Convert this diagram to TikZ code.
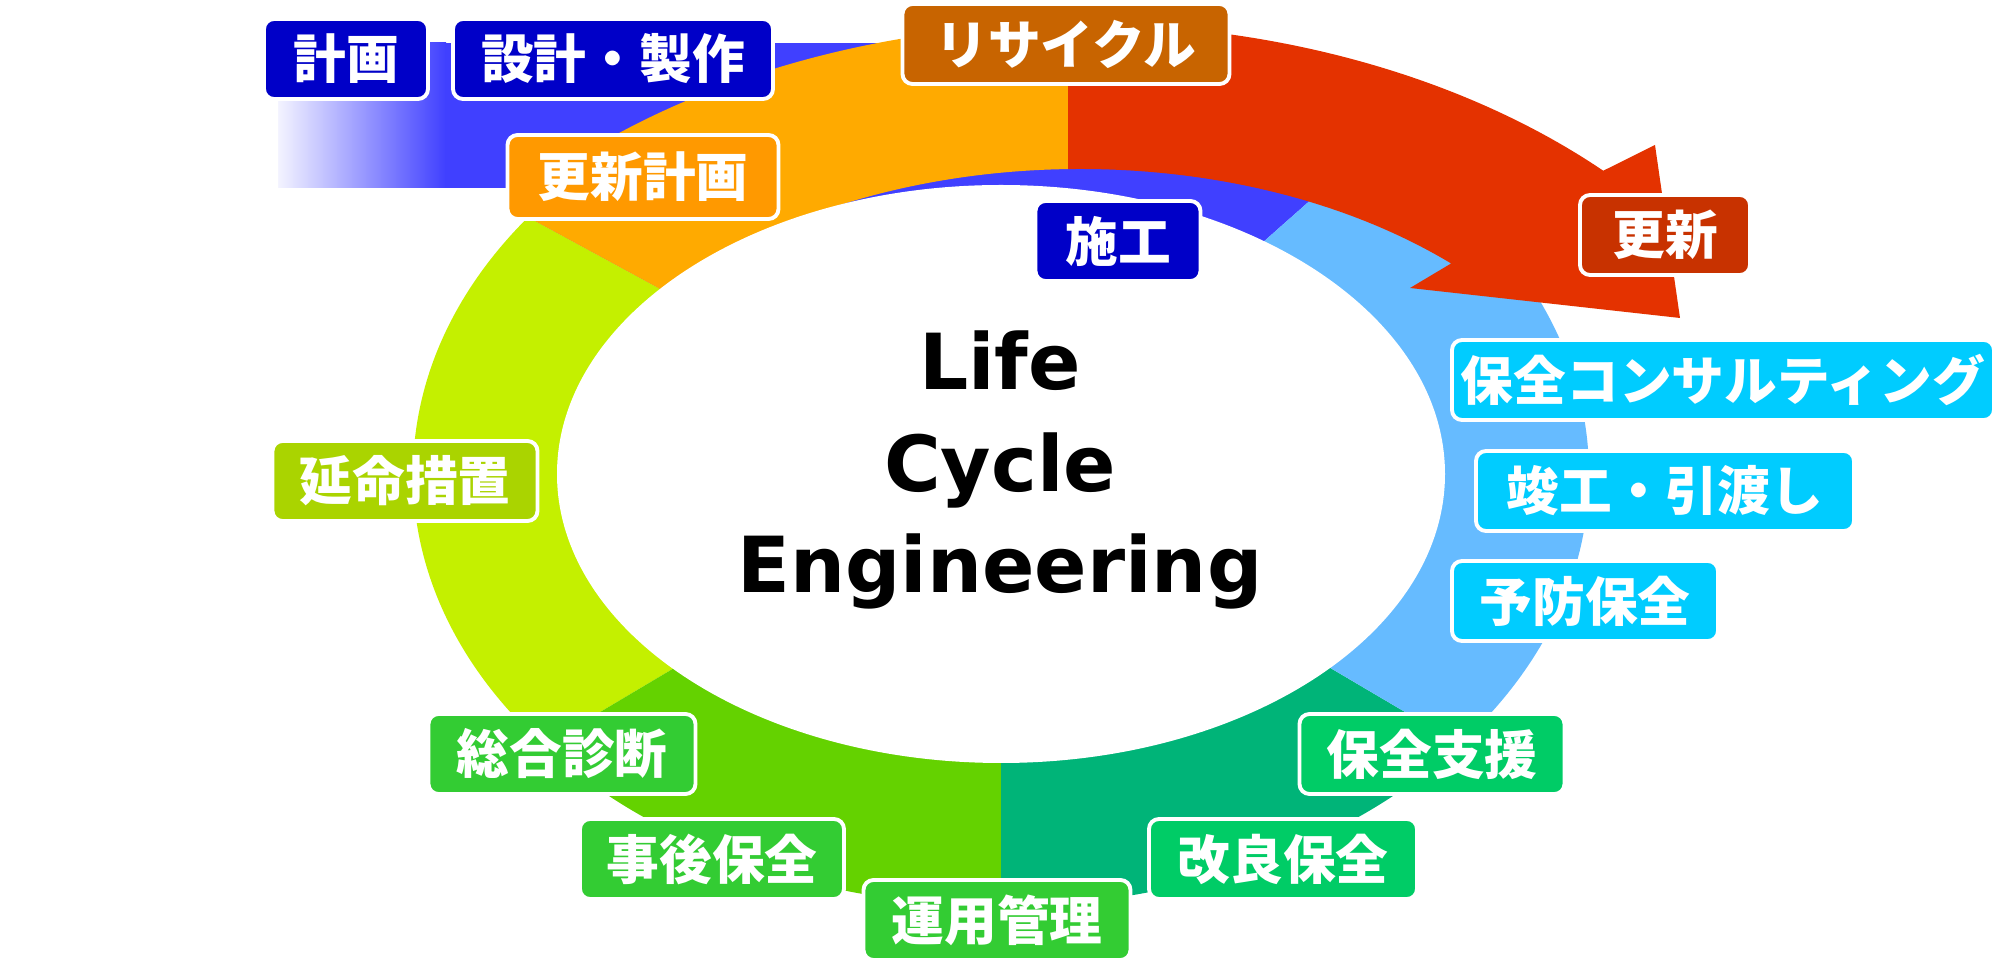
\documentclass[tikz,border=0pt]{standalone}
\usepackage{fontspec}
\newfontfamily\jpfont{Noto Sans CJK JP}
\newfontfamily\lcefont{DejaVu Sans}
\usepackage{tikz}
\usetikzlibrary{positioning,calc}

\definecolor{bandblue}{HTML}{4040FF}
\definecolor{arcorange}{HTML}{FFAA00}
\definecolor{arcred}{HTML}{E43200}
\definecolor{ringlime}{HTML}{C4F000}
\definecolor{ringgreen}{HTML}{64D200}
\definecolor{ringteal}{HTML}{00B478}
\definecolor{ringsky}{HTML}{66BBFF}
\definecolor{tagnavy}{HTML}{0000C8}
\definecolor{tagbrown}{HTML}{C86400}
\definecolor{tagorange}{HTML}{FF9900}
\definecolor{tagred}{HTML}{C83200}
\definecolor{tagcyan}{HTML}{00CCFF}
\definecolor{tagolive}{HTML}{AAD400}
\definecolor{taggreen}{HTML}{33CC33}
\definecolor{tagmint}{HTML}{00CC66}

\tikzset{%
  tag/.style       = {draw=white, line width=1.1pt, rounded corners=0.1cm,
    text=white, inner sep=0pt, minimum height=0.8cm,
    font=\jpfont\bfseries\fontsize{15}{15}\selectfont},
  navybox/.style   = {tag, fill=tagnavy},   % design / build
  brownbox/.style  = {tag, fill=tagbrown},
  orangebox/.style = {tag, fill=tagorange},
  redbox/.style    = {tag, fill=tagred},
  cyanbox/.style   = {tag, fill=tagcyan},   % maintenance
  olivebox/.style  = {tag, fill=tagolive},
  greenbox/.style  = {tag, fill=taggreen},
  mintbox/.style   = {tag, fill=tagmint},
  title/.style     = {align=center, font=\lcefont\bfseries\fontsize{22}{29}\selectfont}
}

\begin{document}
\begin{tikzpicture}

  \useasboundingbox (0,0) rectangle (20.02,9.64);
  \coordinate (ring) at (10.01,4.90);
  \coordinate (arrowc) at (10.80,4.39);

  % ring segments
  \foreach \a/\b/\col in {41.5/151.5/bandblue, 151.5/210.7/ringlime, 210.7/270/ringgreen,
                          270/329.5/ringteal, 329.5/401.5/ringsky}{
    \begin{scope}
      \clip (ring) -- +(\a:12) arc[start angle=\a, end angle=\b, radius=12] -- cycle;
      \fill[\col] (ring) ellipse[x radius=5.88, y radius=4.32];
    \end{scope}
  }

  % blue band coming in from the left
  \shade[left color=bandblue!6, right color=bandblue] (2.78,7.76) rectangle (4.46,9.21);
  \fill[bandblue] (4.45,7.76) rectangle (10.01,9.21);

  % renewal arrow
  \begin{scope}
    \clip ($(ring)+(151.5:12)$) -- ++(61.5:12) -- ++(-28.5:24) -- ++(241.5:12) -- cycle;
    \foreach \xa/\xb/\col in {0/10.68/arcorange, 10.68/20.02/arcred}{
      \begin{scope}
        \clip (\xa,0) rectangle (\xb,9.64);
        \fill[\col] ($(arrowc)+(165:7.40 and 5.01)$)
          arc[start angle=165, end angle=45, x radius=7.40, y radius=5.01]
          -- (16.55,8.19) -- (16.80,6.46) -- (14.10,6.76) -- (14.62,7.07)
          -- ($(arrowc)+(47:5.47 and 3.56)$)
          arc[start angle=47, end angle=165, x radius=5.47, y radius=3.56] -- cycle;
      \end{scope}
    }
  \end{scope}

  \fill[white] (ring) ellipse[x radius=4.44, y radius=2.89];

  \draw node at (10.0,4.94) [title] (lce) {Life\\Cycle\\Engineering};

  \draw node at (3.46,9.05) [navybox, minimum width=1.64cm] (plan) {計画};
  \draw node at (6.13,9.05) [navybox, minimum width=3.20cm] (design) {設計・製作};
  \draw node at (10.66,9.20) [brownbox, minimum width=3.27cm] (recycle) {リサイクル};
  \draw node at (6.43,7.87) [orangebox, minimum width=2.71cm, minimum height=0.84cm] (renewplan) {更新計画};
  \draw node at (11.18,7.23) [navybox, minimum width=1.65cm] (build) {施工};
  \draw node at (16.65,7.29) [redbox, minimum width=1.70cm] (renew) {更新};

  \draw node at (17.23,5.84) [cyanbox, minimum width=5.42cm] (consult) {保全コンサルティング};
  \draw node at (16.65,4.73) [cyanbox, minimum width=3.78cm] (handover) {竣工・引渡し};
  \draw node at (15.85,3.63) [cyanbox, minimum width=2.66cm] (prevent) {予防保全};

  \draw node at (4.05,4.83) [olivebox, minimum width=2.65cm] (extend) {延命措置};
  \draw node at (5.62,2.10) [greenbox, minimum width=2.67cm] (diagnose) {総合診断};
  \draw node at (7.12,1.05) [greenbox, minimum width=2.64cm] (afterfix) {事後保全};
  \draw node at (9.97,0.44) [greenbox, minimum width=2.67cm] (operate) {運用管理};
  \draw node at (14.32,2.10) [mintbox, minimum width=2.65cm] (support) {保全支援};
  \draw node at (12.83,1.05) [mintbox, minimum width=2.68cm] (improve) {改良保全};

\end{tikzpicture}
\end{document}
